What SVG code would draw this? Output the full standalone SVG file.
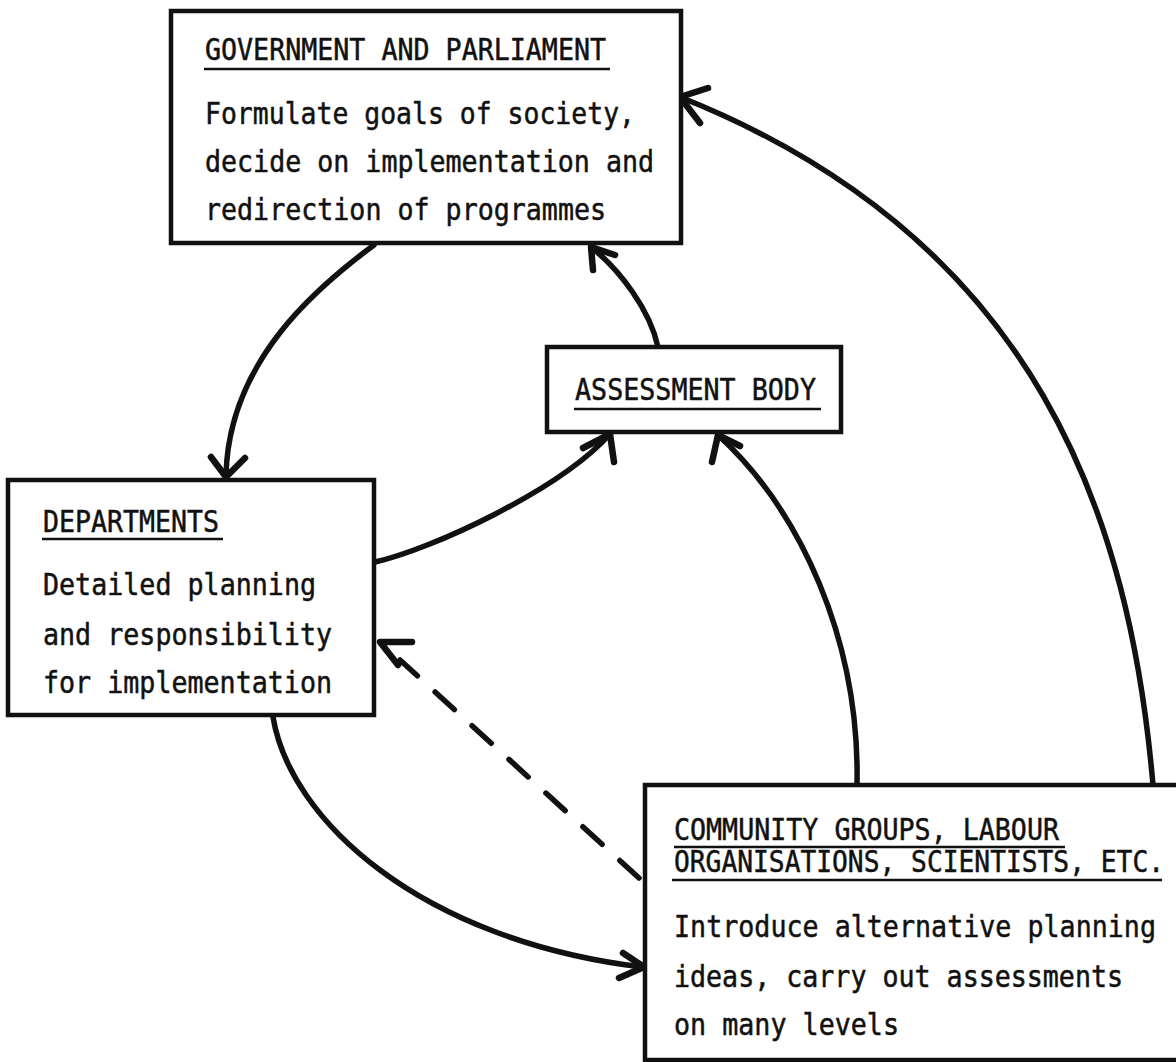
<svg xmlns="http://www.w3.org/2000/svg" width="1176" height="1062" viewBox="0 0 1176 1062">
<style>
.box{fill:#fff;stroke:#111;stroke-width:4.5}
.t{font-family:"DejaVu Sans Mono","Liberation Mono",monospace;font-size:29.5px;fill:#111;stroke:#111;stroke-width:0.5}
.ul{stroke:#111;stroke-width:2.5}
.c{fill:none;stroke:#111;stroke-width:5.5;stroke-linecap:round}
.h{fill:none;stroke:#111;stroke-width:6.5;stroke-linecap:round;stroke-linejoin:round}
.d{fill:none;stroke:#111;stroke-width:5.5;stroke-linecap:round;stroke-dasharray:26 24}
</style>
<rect width="1176" height="1062" fill="#fff"/>
<g id="connectors">
  <path class="c" d="M374,245 C320,285 228,360 226,476"/>
  <polyline class="h" points="211,457 226,477 245,458"/>
  <path class="c" d="M375,562 C430,550 560,490 610,434"/>
  <polyline class="h" points="583,448 610,434 614,462"/>
  <path class="c" d="M658,347 C650,310 620,270 591,247"/>
  <polyline class="h" points="593,270 591,247 615,255"/>
  <path class="c" d="M1153,785 C1130,520 1040,240 680,97"/>
  <polyline class="h" points="708,88 680,97 700,123"/>
  <path class="c" d="M857,785 C860,640 800,510 718,435"/>
  <polyline class="h" points="712,462 718,435 740,446"/>
  <path class="c" d="M273,717 C290,820 420,940 642,967"/>
  <polyline class="h" points="623,953 644,967 619,978"/>
  <path class="d" d="M639,878 L400,660"/>
  <polyline class="h" points="412,642 380,642 398,665"/>
</g>
<g id="government">
  <rect class="box" x="171" y="11" width="510" height="232"/>
  <text class="t" x="205" y="60" textLength="401" lengthAdjust="spacingAndGlyphs">GOVERNMENT AND PARLIAMENT</text>
  <line class="ul" x1="204" y1="69" x2="610" y2="69"/>
  <text class="t" x="205" y="124" textLength="430" lengthAdjust="spacingAndGlyphs">Formulate goals of society,</text>
  <text class="t" x="205" y="172" textLength="449" lengthAdjust="spacingAndGlyphs">decide on implementation and</text>
  <text class="t" x="205" y="220" textLength="401" lengthAdjust="spacingAndGlyphs">redirection of programmes</text>
</g>
<g id="assessment">
  <rect class="box" x="547" y="347" width="294" height="85"/>
  <text class="t" x="575" y="400" textLength="241" lengthAdjust="spacingAndGlyphs">ASSESSMENT BODY</text>
  <line class="ul" x1="574" y1="409" x2="821" y2="409"/>
</g>
<g id="departments">
  <rect class="box" x="8" y="480" width="366" height="235"/>
  <text class="t" x="43" y="532" textLength="176" lengthAdjust="spacingAndGlyphs">DEPARTMENTS</text>
  <line class="ul" x1="42" y1="539" x2="223" y2="539"/>
  <text class="t" x="43" y="595" textLength="273" lengthAdjust="spacingAndGlyphs">Detailed planning</text>
  <text class="t" x="43" y="645" textLength="289" lengthAdjust="spacingAndGlyphs">and responsibility</text>
  <text class="t" x="43" y="693" textLength="289" lengthAdjust="spacingAndGlyphs">for implementation</text>
</g>
<g id="community">
  <rect class="box" x="645" y="785" width="545" height="275"/>
  <text class="t" x="674" y="840" textLength="385" lengthAdjust="spacingAndGlyphs">COMMUNITY GROUPS, LABOUR</text>
  <line class="ul" x1="674" y1="847" x2="1065" y2="847"/>
  <text class="t" x="674" y="872" textLength="490" lengthAdjust="spacingAndGlyphs">ORGANISATIONS, SCIENTISTS, ETC.</text>
  <line class="ul" x1="672" y1="880" x2="1162" y2="880"/>
  <text class="t" x="674" y="937" textLength="482" lengthAdjust="spacingAndGlyphs">Introduce alternative planning</text>
  <text class="t" x="674" y="987" textLength="449" lengthAdjust="spacingAndGlyphs">ideas, carry out assessments</text>
  <text class="t" x="674" y="1035" textLength="225" lengthAdjust="spacingAndGlyphs">on many levels</text>
</g>
</svg>
